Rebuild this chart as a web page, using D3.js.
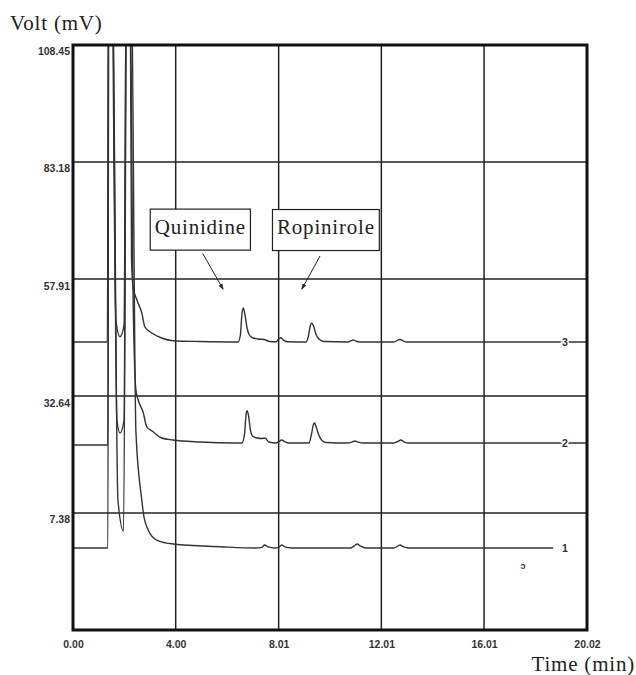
<!DOCTYPE html>
<html lang="en">
<head>
  <meta charset="utf-8">
  <script src="https://d3js.org/d3.v7.min.js"></script>
  <style>
    body { margin: 0; background: #fff; }
    svg text.tick { font: bold 10.5px "Liberation Sans", Arial, sans-serif; fill: #333; }
    svg text.title { font: 21px "Liberation Serif", "Times New Roman", serif; fill: #222; letter-spacing: 0.8px; }
    .grid line { stroke: #222; stroke-width: 1.5; }
    .trace { fill: none; stroke: #333; stroke-width: 1.4; stroke-linejoin: round; }
  </style>
</head>
<body>
<script>
  // time (min) and signal (mV)
  var xTicks = [0.00, 4.00, 8.01, 12.01, 16.01, 20.02];
  var yTicks = [7.38, 32.64, 57.91, 83.18, 108.45];
  var yMin = -17.89;

  // trace 1 (blank), trace 2, trace 3  -- [time, mV]
  var trace1 = [[0,-0.18],[1.36,-0.18],[1.39,130],[1.52,130],[1.75,10.18],[1.97,3.49],[2.10,130],
    [2.26,130],[2.45,25],[2.68,10.18],[2.74,7.38],[2.93,3.70],[3.26,1.54],[3.91,0.68],[5.74,0.10],
    [7.10,-0.18],[7.35,-0.05],[7.47,0.46],[7.60,0.05],[7.85,-0.18],[8.00,-0.10],[8.13,0.46],[8.26,0.05],
    [8.50,-0.18],[10.80,-0.18],[10.96,0.30],[11.07,0.68],[11.18,0.30],[11.40,-0.18],[12.50,-0.18],
    [12.64,0.20],[12.74,0.46],[12.85,0.15],[13.05,-0.18],[18.70,-0.18]];
  var trace2 = [[0,22.06],[1.36,22.06],[1.39,130],[1.52,130],[1.71,27.46],[1.83,24.65],[1.99,27.46],
    [2.08,130],[2.22,130],[2.32,62],[2.45,33.94],[2.54,31.78],[2.74,28.97],[2.87,26.01],[3.12,24.93],
    [3.45,23.57],[3.89,23.14],[4.95,22.71],[6.35,22.49],[6.58,22.49],[6.68,24.43],[6.74,28.54],
    [6.78,29.47],[6.84,28.32],[6.91,25.30],[7.01,23.90],[7.17,23.57],[7.36,23.46],[7.48,23.57],
    [7.63,22.71],[7.91,22.49],[8.02,22.80],[8.13,23.14],[8.24,22.80],[8.40,22.49],[9.19,22.49],
    [9.29,24.43],[9.37,26.59],[9.41,26.81],[9.46,26.16],[9.56,24.43],[9.68,23.14],[9.85,22.60],
    [10.71,22.49],[10.88,22.75],[10.98,22.92],[11.10,22.70],[11.30,22.49],[12.50,22.49],[12.66,22.85],
    [12.77,23.14],[12.88,22.80],[13.05,22.49],[20.02,22.49]];
  var trace3 = [[0,44.31],[1.34,44.31],[1.38,130],[1.50,130],[1.67,49.06],[1.83,45.45],[1.99,48.02],
    [2.08,130],[2.22,130],[2.28,62.02],[2.34,56.18],[2.49,53.38],[2.68,50.57],[2.80,47.55],[3.07,46.25],
    [3.45,45.17],[3.89,44.59],[4.95,44.41],[6.35,44.31],[6.43,44.31],[6.52,45.82],[6.58,50.35],
    [6.63,51.65],[6.70,50.14],[6.78,47.33],[6.87,45.82],[7.01,45.17],[7.21,44.95],[7.44,44.85],
    [7.67,44.41],[7.91,44.35],[8.02,45.00],[8.10,45.23],[8.20,44.70],[8.35,44.35],[9.08,44.31],
    [9.17,45.60],[9.25,47.98],[9.30,48.35],[9.37,47.76],[9.46,46.03],[9.58,44.95],[9.78,44.41],
    [10.71,44.31],[10.84,44.60],[10.91,44.74],[11.00,44.55],[11.15,44.31],[12.50,44.31],[12.65,44.70],
    [12.74,44.85],[12.84,44.60],[13.00,44.31],[20.02,44.31]];
  var traces = [trace1, trace2, trace3];
  var traceNames = ["1", "2", "3"];

  var annotations = [
    { text: "Quinidine",  box: [4.96, 68.58], from: [5.05, 63.46], to: [5.85, 55.69] },
    { text: "Ropinirole", box: [9.85, 68.49], from: [9.62, 62.88], to: [8.91, 55.69] }
  ];

  var W = 636, H = 675;
  var svg = d3.select("body").append("svg").attr("width", W).attr("height", H);

  var x = d3.scaleLinear().domain([0, 20.02]).range([73, 587]);
  var y = d3.scaleLinear().domain([yMin, 108.45]).range([630, 45]);

  svg.append("defs").append("clipPath").attr("id", "plot")
    .append("rect").attr("x", x(0)).attr("y", y(108.45))
    .attr("width", x(20.02) - x(0)).attr("height", y(yMin) - y(108.45));

  svg.append("defs").append("marker").attr("id", "arrow")
    .attr("viewBox", "0 0 10 10").attr("refX", 9).attr("refY", 5)
    .attr("markerWidth", 6).attr("markerHeight", 6).attr("orient", "auto")
    .append("path").attr("d", "M0,1.5L10,5L0,8.5Z").attr("fill", "#222");

  // grid
  var grid = svg.append("g").attr("class", "grid");
  grid.selectAll(".v").data(xTicks.slice(1, -1)).enter().append("line")
    .attr("x1", function(d) { return x(d); }).attr("x2", function(d) { return x(d); })
    .attr("y1", y(108.45)).attr("y2", y(yMin));
  grid.selectAll(".h").data(yTicks.slice(0, -1)).enter().append("line")
    .attr("y1", function(d) { return y(d); }).attr("y2", function(d) { return y(d); })
    .attr("x1", x(0)).attr("x2", x(20.02));

  // traces
  var line = d3.line().curve(d3.curveMonotoneX)
    .x(function(d) { return x(d[0]); }).y(function(d) { return y(d[1]); });
  svg.append("g").attr("clip-path", "url(#plot)").selectAll("path").data(traces).enter()
    .append("path").attr("class", "trace").attr("d", line);

  // trace numbers
  svg.selectAll(".tn").data(traces).enter().append("text")
    .attr("class", "tick")
    .attr("x", 565).attr("y", function(d) { return y(d[d.length - 1][1]) + 4; })
    .attr("text-anchor", "middle")
    .attr("stroke", "#fff").attr("stroke-width", 3).attr("paint-order", "stroke")
    .text(function(d, i) { return traceNames[i]; });

  // frame
  svg.append("rect").attr("x", x(0)).attr("y", y(108.45))
    .attr("width", x(20.02) - x(0)).attr("height", y(yMin) - y(108.45))
    .attr("fill", "none").attr("stroke", "#111").attr("stroke-width", 3);

  // axes labels
  var xAxis = svg.append("g").attr("transform", "translate(0," + y(yMin) + ")")
    .call(d3.axisBottom(x).tickValues(xTicks).tickFormat(d3.format(".2f")).tickSize(0).tickPadding(11));
  var yAxis = svg.append("g").attr("transform", "translate(" + (x(0) - 3) + ",0)")
    .call(d3.axisLeft(y).tickValues(yTicks).tickFormat(d3.format(".2f")).tickSize(0).tickPadding(0));
  [xAxis, yAxis].forEach(function(a) {
    a.select(".domain").remove();
    a.selectAll("text").attr("class", "tick").attr("fill", null).attr("font-size", null).attr("font-family", null);
  });
  yAxis.selectAll("text").attr("dy", "0.95em");

  svg.append("text").attr("class", "title").attr("x", 10).attr("y", 30).text("Volt (mV)");
  svg.append("text").attr("class", "title").attr("x", 635).attr("y", 671)
    .attr("text-anchor", "end").text("Time (min)");

  // annotations
  annotations.forEach(function(a) {
    var g = svg.append("g");
    var t = g.append("text").attr("class", "title")
      .attr("x", x(a.box[0])).attr("y", y(a.box[1]) + 4)
      .attr("text-anchor", "middle").text(a.text);
    var bb = t.node().getBBox();
    g.insert("rect", "text")
      .attr("x", x(a.box[0]) - bb.width / 2 - 4.5).attr("y", y(a.box[1]) - 20.5)
      .attr("width", bb.width + 9).attr("height", 41)
      .attr("fill", "#fff").attr("stroke", "#222").attr("stroke-width", 1.2);
    g.append("line")
      .attr("x1", x(a.from[0])).attr("y1", y(a.from[1]))
      .attr("x2", x(a.to[0])).attr("y2", y(a.to[1]))
      .attr("stroke", "#222").attr("stroke-width", 1)
      .attr("marker-end", "url(#arrow)");
  });

  svg.append("text").attr("class", "tick").attr("x", 523).attr("y", 569)
    .attr("text-anchor", "middle").style("font-size", "9px").text("ɔ");
</script>
</body>
</html>
